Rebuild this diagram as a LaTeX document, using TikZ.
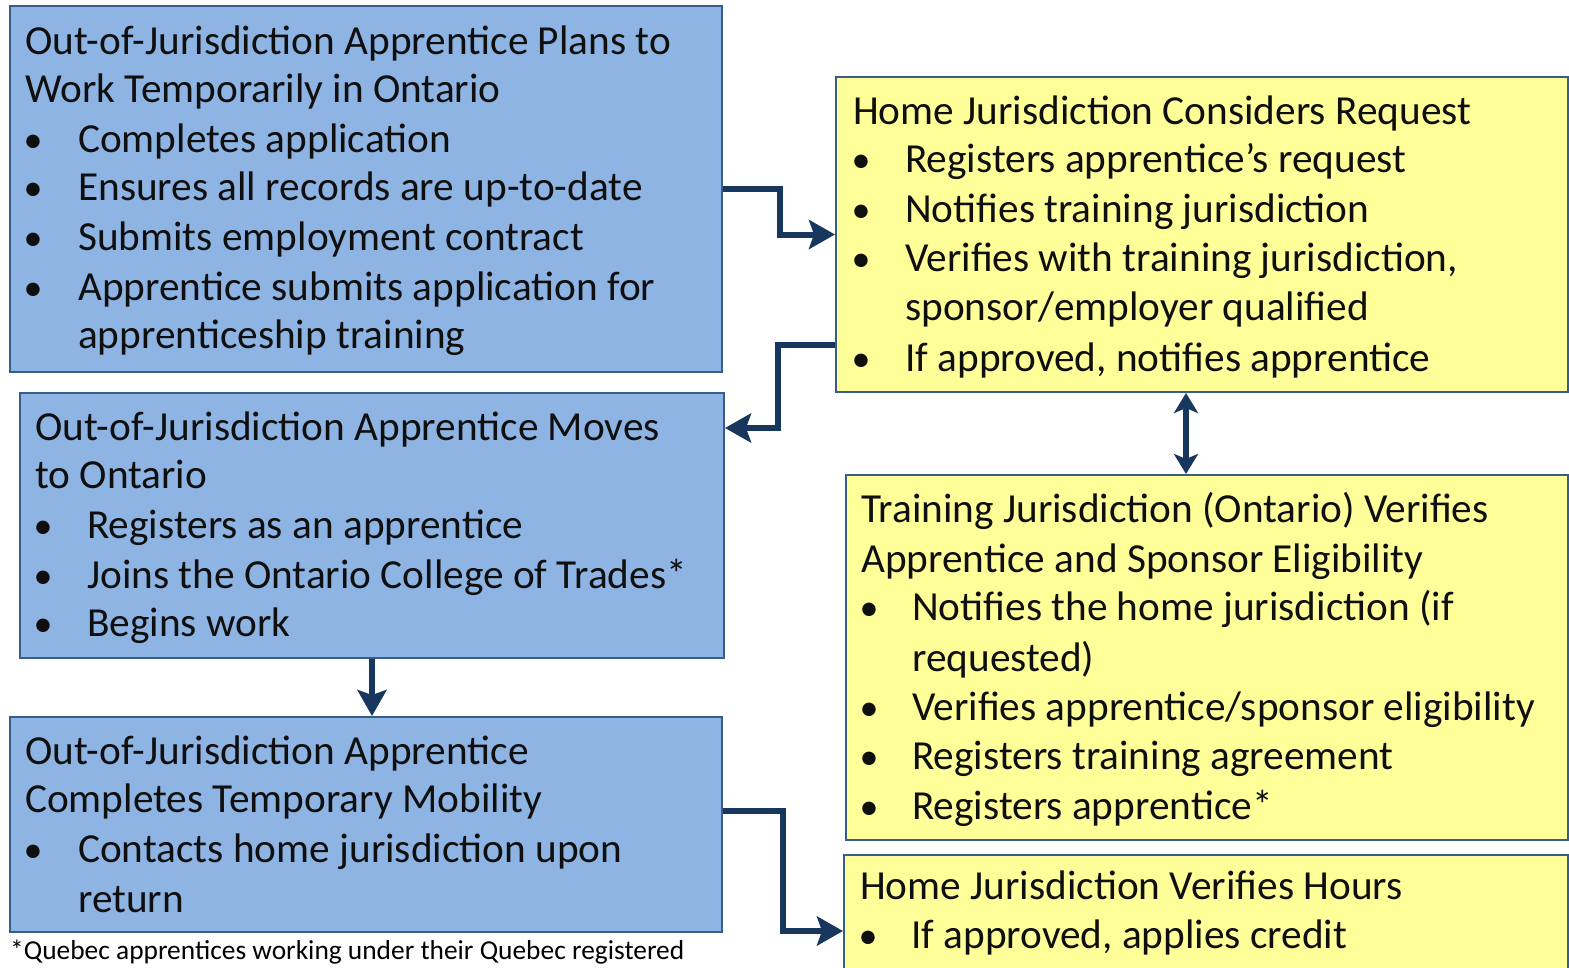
\documentclass[tikz,border=0pt]{standalone}
\usepackage{fontspec}
\setmainfont{Carlito}
\usetikzlibrary{arrows.meta,calc}
\definecolor{boxblue}{RGB}{142,180,227}
\definecolor{boxyellow}{RGB}{255,255,153}
\definecolor{boxline}{RGB}{56,93,138}
\definecolor{arrowcol}{RGB}{23,55,94}
\definecolor{txtcol}{RGB}{15,15,15}
\tikzset{
  bluebox/.style={draw=boxline, line width=2pt, fill=boxblue, inner sep=0pt},
  yellowbox/.style={draw=boxline, line width=2pt, fill=boxyellow, inner sep=0pt},
  txt/.style={anchor=base west, inner sep=0pt, text=txtcol, font=\fontsize{41.3}{48}\selectfont},
  bul/.style={anchor=base, inner sep=0pt, text=txtcol, font=\fontsize{38}{48}\selectfont},
  foot/.style={anchor=base west, inner sep=0pt, text=black, font=\fontsize{27.4}{32}\selectfont},
  conn/.style={draw=arrowcol, line width=6pt, line join=miter,
    -{Stealth[length=26pt,width=29pt,inset=5pt]}},
  conn2/.style={draw=arrowcol, line width=6pt,
    {Stealth[length=20pt,width=24pt,inset=5pt]}-{Stealth[length=20pt,width=24pt,inset=5pt]}}
}
\newcommand\tline[4]{\node[txt] (#1) at (#2,{#3+2}) {#4};}
\newcommand\bline[6]{\node[bul] (#1b) at (#2,{#4+2}) {•};\node[txt] (#1) at (#3,{#4+2}) {#6};}
\begin{document}
\begin{tikzpicture}[x=1pt,y=-1pt]
\useasboundingbox (0,0) rectangle (1569,967);
\clip (0,0) rectangle (1569,967);
% boxes
\node[bluebox, minimum width=712pt, minimum height=366pt, anchor=north west] (box1) at (9,5) {};
\node[bluebox, minimum width=704pt, minimum height=265pt, anchor=north west] (box2) at (19,392) {};
\node[bluebox, minimum width=712pt, minimum height=215pt, anchor=north west] (box3) at (9,716) {};
\node[yellowbox, minimum width=732pt, minimum height=315pt, anchor=north west] (boxA) at (835,76) {};
\node[yellowbox, minimum width=722pt, minimum height=365pt, anchor=north west] (boxB) at (845,474) {};
\node[yellowbox, minimum width=724pt, minimum height=152pt, anchor=north west] (boxC) at (843,854) {};
% box 1 text
\tline{t1a}{25}{52}{Out-of-Jurisdiction Apprentice Plans to}
\tline{t1b}{25}{100}{Work Temporarily in Ontario}
\bline{t1c}{33}{78}{150}{}{Completes application}
\bline{t1d}{33}{78}{198}{}{Ensures all records are up-to-date}
\bline{t1e}{33}{78}{248}{}{Submits employment contract}
\bline{t1f}{33}{78}{298}{}{Apprentice submits application for}
\tline{t1g}{78}{346}{apprenticeship training}
% box 2 text
\tline{t2a}{35}{438}{Out-of-Jurisdiction Apprentice Moves}
\tline{t2b}{35}{486}{to Ontario}
\bline{t2c}{43}{87}{536}{}{Registers as an apprentice}
\bline{t2d}{43}{87}{586}{}{Joins the Ontario College of Trades*}
\bline{t2e}{43}{87}{634}{}{Begins work}
% box 3 text
\tline{t3a}{25}{762}{Out-of-Jurisdiction Apprentice}
\tline{t3b}{25}{810}{Completes Temporary Mobility}
\bline{t3c}{33}{78}{860}{}{Contacts home jurisdiction upon}
\tline{t3d}{78}{910}{return}
% box A text
\tline{tAa}{853}{122}{Home Jurisdiction Considers Request}
\bline{tAb}{861}{905}{170}{}{Registers apprentice’s request}
\bline{tAc}{861}{905}{220}{}{Notifies training jurisdiction}
\bline{tAd}{861}{905}{269}{}{Verifies with training jurisdiction,}
\tline{tAe}{905}{318}{sponsor/employer qualified}
\bline{tAf}{861}{905}{369}{}{If approved, notifies apprentice}
% box B text
\tline{tBa}{861}{520}{Training Jurisdiction (Ontario) Verifies}
\tline{tBb}{861}{570}{Apprentice and Sponsor Eligibility}
\bline{tBc}{869}{912}{618}{}{Notifies the home jurisdiction (if}
\tline{tBd}{912}{669}{requested)}
\bline{tBe}{869}{912}{718}{}{Verifies apprentice/sponsor eligibility}
\bline{tBf}{869}{912}{767}{}{Registers training agreement}
\bline{tBg}{869}{912}{817}{}{Registers apprentice*}
% box C text
\tline{tCa}{860}{897}{Home Jurisdiction Verifies Hours}
\bline{tCb}{868}{911}{946}{}{If approved, applies credit}
% footnote
\node[foot] (fn) at (10,959) {*Quebec apprentices working under their Quebec registered};
% connectors
\draw[conn] (box1.east) -- ++(57,0) |- (boxA.west);
\draw[conn] (boxA.west |- 0,345) -- (778,345) |- (box2.east |- 0,428);
\draw[conn2] (boxA.south -| 1186,0) -- (boxB.north -| 1186,0);
\draw[conn] (box2.south) -- (box2.south |- box3.north);
\draw[conn] (box3.east |- 0,811) -- (783,811) |- (boxC.west);
\end{tikzpicture}
\end{document}
